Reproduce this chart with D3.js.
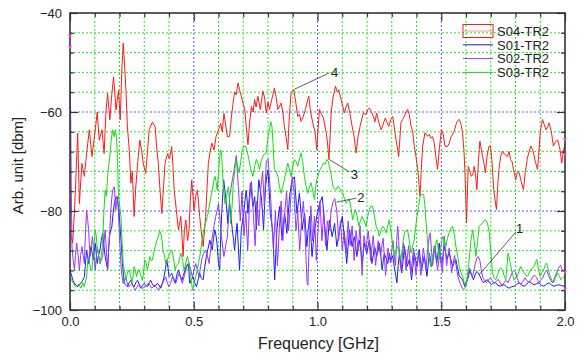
<!DOCTYPE html>
<html>
<head>
<meta charset="utf-8">
<script src="https://cdn.jsdelivr.net/npm/d3@7"></script>
<style>
  body { margin: 0; background: #fff; }
  svg { display: block; font-family: Arial, "Liberation Sans", sans-serif; }
</style>
</head>
<body>
<div id="chart"></div>
<script>
// Data: [frequency GHz, level dbm]
const s04 = [[0,-84],[0.011,-86.5],[0.02,-78],[0.031,-64.3],[0.038,-78.5],[0.048,-70.4],[0.058,-73],[0.068,-68],[0.078,-63.6],[0.089,-69],[0.102,-63.6],[0.11,-60],[0.118,-65.7],[0.129,-63.6],[0.138,-68.4],[0.145,-60],[0.152,-56.2],[0.161,-61.6],[0.168,-57],[0.176,-52.9],[0.186,-59.6],[0.196,-55.6],[0.203,-61.6],[0.209,-52],[0.215,-46.1],[0.22,-50],[0.226,-55.6],[0.232,-63],[0.24,-68],[0.246,-74.4],[0.252,-72],[0.259,-81.1],[0.266,-75],[0.274,-70],[0.282,-65.7],[0.29,-68],[0.296,-70.4],[0.306,-72.4],[0.313,-68],[0.32,-63.6],[0.333,-62],[0.344,-63],[0.35,-67],[0.357,-70.4],[0.364,-76],[0.371,-80.5],[0.378,-75],[0.384,-70.4],[0.394,-68.4],[0.402,-69.5],[0.411,-67],[0.416,-71],[0.421,-75.8],[0.43,-80],[0.438,-83.8],[0.448,-81.1],[0.457,-89.2],[0.462,-84],[0.468,-81.8],[0.475,-86],[0.481,-83.8],[0.486,-78],[0.492,-73.7],[0.501,-79.8],[0.508,-77],[0.515,-75.8],[0.524,-81.1],[0.53,-84],[0.538,-87.2],[0.548,-81.1],[0.554,-75],[0.559,-70.4],[0.566,-68],[0.573,-66.3],[0.582,-67.7],[0.59,-65],[0.6,-63.6],[0.609,-62.3],[0.615,-64],[0.622,-60.3],[0.63,-63],[0.636,-65],[0.645,-64.9],[0.652,-61],[0.659,-58.2],[0.665,-56],[0.672,-56.5],[0.679,-54.1],[0.685,-55.5],[0.692,-56.8],[0.706,-59.5],[0.712,-63],[0.719,-66.6],[0.726,-62],[0.733,-58.9],[0.74,-60],[0.746,-57.5],[0.752,-59],[0.759,-56.8],[0.769,-59.5],[0.779,-55.8],[0.786,-57],[0.793,-60.2],[0.8,-58],[0.806,-59.5],[0.815,-57.5],[0.826,-55.2],[0.833,-57],[0.84,-59.5],[0.853,-58.2],[0.86,-60],[0.866,-62.9],[0.873,-65],[0.88,-67.6],[0.886,-61],[0.893,-56.2],[0.904,-55.5],[0.912,-58],[0.92,-60.9],[0.927,-60.5],[0.934,-61.9],[0.942,-61],[0.951,-59.5],[0.958,-58],[0.965,-56.8],[0.972,-60],[0.981,-62.2],[0.99,-64],[0.997,-67.6],[1.003,-63],[1.008,-59.5],[1.016,-60.5],[1.024,-61.2],[1.035,-64.2],[1.04,-66],[1.046,-69.6],[1.05,-66],[1.055,-60.2],[1.063,-57],[1.073,-54.8],[1.08,-56],[1.086,-55.5],[1.093,-57],[1.099,-58.2],[1.109,-60.2],[1.115,-59],[1.122,-58.2],[1.13,-60],[1.14,-62.9],[1.148,-65],[1.156,-68.3],[1.164,-65],[1.172,-62.9],[1.185,-60.2],[1.195,-60.5],[1.203,-59.5],[1.21,-59.2],[1.218,-60],[1.226,-60.9],[1.232,-62],[1.239,-60.2],[1.247,-62],[1.257,-63.6],[1.265,-62.5],[1.274,-61.2],[1.28,-62],[1.288,-62.9],[1.296,-61.5],[1.304,-60.9],[1.31,-63],[1.317,-65.6],[1.322,-67],[1.328,-69],[1.337,-62.2],[1.344,-61.5],[1.351,-60.9],[1.357,-60],[1.364,-59.5],[1.371,-60.5],[1.378,-62.9],[1.385,-64],[1.391,-66.9],[1.398,-69],[1.405,-71.6],[1.414,-77],[1.419,-72],[1.425,-66.9],[1.434,-64.2],[1.445,-64.9],[1.452,-64.5],[1.458,-65.3],[1.465,-65],[1.472,-66.3],[1.478,-69],[1.485,-71.6],[1.493,-67],[1.501,-63.6],[1.508,-64.5],[1.515,-66.9],[1.525,-67],[1.532,-66.3],[1.54,-65],[1.552,-63.9],[1.56,-62.5],[1.566,-61.8],[1.573,-61.5],[1.58,-62.5],[1.586,-64.2],[1.592,-68],[1.597,-73.7],[1.602,-82.4],[1.606,-76],[1.609,-71],[1.615,-72],[1.622,-73],[1.628,-72.5],[1.633,-71],[1.638,-72.5],[1.644,-75.7],[1.65,-70],[1.656,-65.9],[1.662,-67.5],[1.667,-69],[1.673,-70.5],[1.678,-72.3],[1.685,-69],[1.692,-67],[1.699,-66.9],[1.705,-70],[1.712,-75.7],[1.718,-78],[1.723,-79.7],[1.728,-75],[1.733,-71.6],[1.74,-69],[1.747,-67.9],[1.755,-68.5],[1.767,-69],[1.774,-68],[1.78,-69.6],[1.786,-70],[1.792,-71.6],[1.801,-73.7],[1.808,-72],[1.815,-72.3],[1.823,-74],[1.832,-75.7],[1.84,-72],[1.848,-69.3],[1.855,-68],[1.862,-66.9],[1.868,-67.5],[1.873,-68.3],[1.88,-70],[1.889,-71.6],[1.895,-68],[1.9,-64],[1.909,-61.5],[1.916,-62.5],[1.923,-63.6],[1.93,-63],[1.936,-62.2],[1.945,-64],[1.953,-66.9],[1.962,-66],[1.97,-65.6],[1.978,-67],[1.987,-70.3],[1.993,-68],[2.0,-66.5]];

const s01 = [[0,-91.9],[0.006,-93],[0.012,-94],[0.018,-94.6],[0.025,-95],[0.031,-95.3],[0.038,-94.8],[0.044,-94.6],[0.051,-94],[0.058,-93.3],[0.062,-91],[0.067,-87.9],[0.071,-89],[0.075,-90.6],[0.08,-88.5],[0.085,-87.2],[0.09,-88.5],[0.094,-89.9],[0.098,-88],[0.102,-86.5],[0.106,-88.5],[0.11,-90.6],[0.115,-89],[0.121,-87.9],[0.126,-86],[0.132,-84.5],[0.137,-87],[0.142,-89.2],[0.147,-90.5],[0.152,-91.9],[0.156,-88],[0.159,-85.2],[0.164,-84],[0.169,-83.2],[0.174,-80.5],[0.179,-78.5],[0.184,-77.5],[0.188,-77.1],[0.192,-78],[0.196,-79.1],[0.2,-81.5],[0.203,-83.8],[0.208,-87],[0.212,-90.6],[0.216,-93],[0.219,-94.6],[0.226,-95],[0.232,-95.3],[0.239,-94.5],[0.246,-94],[0.252,-94.8],[0.259,-95.3],[0.266,-94.5],[0.273,-94],[0.28,-94.8],[0.286,-95.6],[0.293,-95],[0.3,-94.6],[0.306,-95],[0.313,-95.3],[0.32,-94.5],[0.326,-94],[0.333,-94.8],[0.34,-95.3],[0.347,-95],[0.353,-94.6],[0.36,-95],[0.367,-95.6],[0.374,-94.5],[0.38,-93.3],[0.386,-91.5],[0.391,-89.9],[0.396,-91.5],[0.4,-93.3],[0.406,-93],[0.411,-92.6],[0.418,-93.5],[0.425,-94.6],[0.431,-93],[0.438,-91.9],[0.445,-93],[0.452,-94],[0.458,-93],[0.465,-91.9],[0.471,-91],[0.478,-90.6],[0.484,-94.6],[0.49,-94],[0.497,-93.3],[0.504,-94.5],[0.511,-95.3],[0.517,-94],[0.524,-92.6],[0.53,-93.5],[0.538,-93.9],[0.544,-91.5],[0.551,-89.2],[0.558,-87.5],[0.565,-85.9],[0.57,-87],[0.575,-87.9],[0.58,-85.5],[0.585,-83.8],[0.59,-85],[0.594,-86.5],[0.6,-90.6],[0.605,-91.9],[0.609,-85],[0.613,-80.5],[0.617,-77],[0.621,-73.7],[0.625,-75.5],[0.629,-77.1],[0.634,-80],[0.638,-82.5],[0.642,-80],[0.645,-78.5],[0.65,-81],[0.656,-83.8],[0.661,-86],[0.665,-87.9],[0.67,-85],[0.675,-82.5],[0.68,-87],[0.685,-91.9],[0.689,-87.5],[0.692,-83.8],[0.697,-82],[0.702,-80.5],[0.707,-78],[0.712,-75.8],[0.716,-78],[0.719,-80.5],[0.724,-77.5],[0.729,-74.4],[0.734,-76.5],[0.739,-79.1],[0.743,-78],[0.746,-77.1],[0.75,-80],[0.753,-83.8],[0.758,-78],[0.763,-73.7],[0.768,-75.5],[0.773,-77.1],[0.778,-80.5],[0.782,-83.8],[0.786,-79],[0.79,-75.1],[0.795,-73],[0.8,-71.7],[0.805,-76],[0.809,-80.5],[0.815,-82.5],[0.82,-84.5],[0.824,-90],[0.827,-93.9],[0.832,-88],[0.836,-83.8],[0.842,-81],[0.847,-79.1],[0.852,-82.5],[0.857,-85.9],[0.862,-83],[0.867,-80.5],[0.872,-82.5],[0.876,-84.5],[0.882,-80.5],[0.887,-77.1],[0.893,-75],[0.898,-73.7],[0.903,-73.5],[0.907,-73.1],[0.912,-77],[0.917,-80.5],[0.922,-78.5],[0.927,-76.4],[0.933,-80],[0.938,-83.8],[0.943,-82],[0.948,-80.5],[0.953,-84],[0.957,-87.2],[0.962,-84],[0.968,-81.1],[0.973,-85],[0.978,-89.2],[0.983,-86.5],[0.988,-83.8],[0.993,-82.5],[0.997,-81.1],[1.003,-79.8],[1.008,-78.5],[1.014,-77.8],[1.019,-77.1],[1.024,-79.8],[1.028,-82.5],[1.033,-85],[1.038,-87.9],[1.043,-85],[1.048,-81.8],[1.054,-83.5],[1.059,-85.2],[1.064,-84],[1.069,-82.5],[1.074,-85],[1.078,-87.2],[1.084,-85.5],[1.089,-83.8],[1.095,-82.5],[1.1,-81.1],[1.105,-83.5],[1.109,-85.9],[1.114,-88],[1.118,-90.6],[1.124,-87],[1.129,-83.8],[1.135,-85.5],[1.14,-87.2],[1.145,-86],[1.149,-85.2],[1.154,-87],[1.159,-89.2],[1.164,-87.5],[1.169,-85.9],[1.175,-88],[1.18,-90.6],[1.185,-88.5],[1.189,-86.5],[1.194,-87.5],[1.199,-88.6],[1.205,-87],[1.21,-85.9],[1.215,-88],[1.22,-90.6],[1.225,-89],[1.23,-87.2],[1.235,-88],[1.239,-89.2],[1.245,-88],[1.25,-86.5],[1.256,-89],[1.261,-91.9],[1.266,-90],[1.27,-88.6],[1.277,-89.5],[1.284,-90.6],[1.29,-88.5],[1.297,-90],[1.304,-89],[1.31,-91.2],[1.316,-93],[1.321,-94.5],[1.326,-91],[1.331,-88.5],[1.336,-90.5],[1.34,-92.5],[1.346,-90],[1.351,-87.1],[1.357,-89],[1.362,-91.2],[1.367,-90.5],[1.371,-89.8],[1.376,-92],[1.38,-93.9],[1.386,-91],[1.391,-88.5],[1.397,-90],[1.402,-91.2],[1.407,-89.5],[1.411,-87.8],[1.416,-90],[1.421,-91.9],[1.426,-90.5],[1.431,-89.2],[1.437,-91],[1.442,-93.2],[1.447,-91],[1.452,-88.5],[1.457,-90],[1.461,-91.2],[1.467,-89],[1.472,-87.1],[1.477,-89],[1.482,-90.5],[1.487,-88.5],[1.492,-86.5],[1.497,-89],[1.501,-91.2],[1.507,-89],[1.512,-87.1],[1.518,-88.5],[1.523,-89.8],[1.528,-89],[1.532,-88.5],[1.54,-90],[1.546,-91.2],[1.552,-90.5],[1.559,-89.8],[1.566,-91.5],[1.573,-93.2],[1.58,-93.5],[1.586,-93.9],[1.59,-94.5],[1.595,-95.2],[1.6,-94.5],[1.606,-93.9],[1.611,-93],[1.616,-91.9],[1.623,-93],[1.63,-93.9],[1.636,-93],[1.643,-92.2],[1.65,-92.5],[1.657,-93.2],[1.664,-94],[1.671,-94.5],[1.68,-94],[1.687,-93.9],[1.695,-94.5],[1.703,-94.9],[1.711,-94.5],[1.72,-94.5],[1.729,-95],[1.738,-95.2],[1.746,-95],[1.754,-94.9],[1.764,-95.3],[1.774,-95.6],[1.784,-95.3],[1.794,-95.2],[1.805,-94.8],[1.815,-94.5],[1.825,-95],[1.835,-95.2],[1.845,-94.8],[1.855,-94.2],[1.865,-94.6],[1.875,-94.9],[1.885,-94.7],[1.895,-94.5],[1.905,-95],[1.915,-95.2],[1.925,-94.8],[1.936,-94.5],[1.946,-95],[1.956,-95.2],[1.966,-95],[1.976,-94.9],[1.986,-95.1],[2.0,-95.2]];

const s02 = [[0,-52],[0.003,-62],[0.005,-75],[0.008,-87.2],[0.013,-90],[0.018,-91.9],[0.022,-89],[0.027,-86.5],[0.033,-89],[0.038,-91.9],[0.043,-89],[0.048,-87.2],[0.053,-89],[0.058,-90.6],[0.062,-85],[0.067,-79.8],[0.071,-81.5],[0.075,-83.8],[0.078,-86.5],[0.081,-89.2],[0.086,-87],[0.091,-85.2],[0.096,-88.5],[0.102,-91.9],[0.106,-89.5],[0.11,-87.2],[0.116,-89],[0.121,-90.6],[0.126,-90],[0.132,-89.2],[0.137,-86.5],[0.142,-83.8],[0.147,-88],[0.152,-91.9],[0.156,-88],[0.161,-83.8],[0.166,-79],[0.172,-75.8],[0.179,-75.1],[0.185,-79.8],[0.188,-78.5],[0.192,-77.1],[0.196,-80.5],[0.199,-84.5],[0.203,-88],[0.207,-91.9],[0.211,-93.5],[0.215,-94.6],[0.22,-94],[0.226,-93.3],[0.231,-94.5],[0.236,-95.3],[0.243,-95],[0.25,-94.6],[0.256,-95.3],[0.263,-96],[0.27,-95.5],[0.277,-94.9],[0.283,-95.3],[0.29,-95.6],[0.297,-95.5],[0.304,-95.3],[0.31,-95],[0.317,-94.6],[0.323,-95],[0.33,-95.6],[0.337,-95.3],[0.344,-94.9],[0.35,-95.5],[0.357,-96],[0.365,-95.3],[0.374,-94.6],[0.38,-94],[0.387,-93.3],[0.393,-94.5],[0.4,-95.3],[0.407,-94.5],[0.414,-93.3],[0.42,-94],[0.427,-94.6],[0.434,-93.5],[0.441,-92.6],[0.447,-93.5],[0.454,-94.6],[0.461,-93.3],[0.468,-91.9],[0.474,-91],[0.481,-90.6],[0.488,-92],[0.495,-93.3],[0.501,-92],[0.508,-90.6],[0.515,-92],[0.522,-93.3],[0.528,-91],[0.535,-89.2],[0.541,-88.5],[0.548,-87.9],[0.555,-89],[0.562,-90.6],[0.568,-88],[0.575,-85.2],[0.582,-83],[0.589,-81.1],[0.594,-80],[0.6,-78.5],[0.605,-81],[0.609,-83.8],[0.615,-86.5],[0.622,-89.2],[0.629,-87],[0.636,-85.2],[0.641,-81],[0.645,-77.1],[0.65,-75.5],[0.656,-73.7],[0.662,-72],[0.667,-70.4],[0.672,-68.8],[0.676,-72],[0.68,-75],[0.684,-78.5],[0.688,-82],[0.692,-79],[0.695,-76],[0.699,-80.5],[0.703,-85],[0.707,-82.5],[0.71,-80],[0.714,-84],[0.718,-88],[0.722,-83],[0.725,-78],[0.729,-76],[0.733,-74],[0.737,-77],[0.74,-80],[0.744,-83.5],[0.748,-87],[0.752,-82.5],[0.755,-78],[0.759,-80.5],[0.763,-83],[0.767,-79.5],[0.77,-76],[0.774,-74],[0.778,-72],[0.782,-75.5],[0.785,-79],[0.789,-74.5],[0.793,-70],[0.797,-69.7],[0.8,-69.5],[0.804,-72],[0.808,-75],[0.812,-78.5],[0.815,-82],[0.819,-85],[0.822,-88],[0.826,-84],[0.83,-80],[0.834,-85.5],[0.838,-91],[0.842,-87.5],[0.845,-84],[0.849,-81],[0.853,-78],[0.857,-82],[0.86,-86],[0.864,-83],[0.868,-80],[0.872,-78],[0.875,-76],[0.879,-80],[0.883,-84],[0.887,-81.5],[0.89,-79],[0.894,-76],[0.898,-73],[0.901,-74.5],[0.905,-76],[0.909,-80],[0.913,-84],[0.917,-82],[0.92,-80],[0.924,-84],[0.928,-88],[0.932,-85],[0.935,-82],[0.939,-80],[0.943,-78],[0.947,-81.5],[0.95,-85],[0.954,-90],[0.958,-94.5],[0.961,-95],[0.965,-89],[0.969,-84],[0.973,-79],[0.977,-82.5],[0.98,-86],[0.984,-83.5],[0.988,-81],[0.992,-85.5],[0.995,-90],[0.999,-86.5],[1.003,-83],[1.007,-80.5],[1.01,-78],[1.014,-82],[1.018,-86],[1.022,-83],[1.025,-80],[1.029,-83.5],[1.033,-87],[1.037,-84.5],[1.04,-82],[1.044,-83],[1.048,-84],[1.052,-82],[1.055,-80],[1.059,-79],[1.063,-78],[1.067,-77.8],[1.07,-77.5],[1.074,-78.8],[1.078,-80],[1.082,-83],[1.085,-86],[1.089,-84],[1.093,-82],[1.097,-85],[1.1,-88],[1.104,-86],[1.108,-84],[1.112,-86],[1.116,-88.5],[1.12,-85],[1.124,-82],[1.128,-84.5],[1.132,-87],[1.136,-85],[1.14,-83],[1.144,-86.5],[1.148,-90],[1.152,-87],[1.156,-84],[1.16,-86],[1.164,-88],[1.168,-85.5],[1.172,-83],[1.176,-88],[1.18,-93],[1.184,-89],[1.188,-85],[1.192,-86.5],[1.196,-88],[1.2,-86],[1.205,-84],[1.21,-87],[1.215,-90],[1.22,-87.5],[1.225,-85],[1.23,-88],[1.235,-91],[1.24,-88.5],[1.245,-86],[1.25,-87.5],[1.255,-89],[1.26,-87],[1.265,-85.5],[1.27,-89],[1.275,-93],[1.28,-90],[1.285,-87.5],[1.29,-89],[1.295,-90.5],[1.3,-88],[1.305,-86],[1.31,-89],[1.315,-91],[1.32,-86],[1.324,-83.1],[1.328,-86],[1.333,-90],[1.338,-92],[1.343,-89],[1.348,-86.5],[1.353,-89],[1.358,-92],[1.363,-89.5],[1.368,-87],[1.373,-89.5],[1.378,-92.5],[1.383,-90],[1.388,-87.5],[1.393,-90],[1.398,-93],[1.403,-90.5],[1.408,-88],[1.413,-90.5],[1.418,-93],[1.423,-90],[1.428,-87.5],[1.433,-89.5],[1.438,-92],[1.443,-89],[1.448,-86.5],[1.452,-85],[1.455,-84.4],[1.46,-87.5],[1.465,-91],[1.47,-89],[1.475,-87],[1.48,-89.5],[1.485,-92],[1.49,-90],[1.495,-88],[1.5,-90.5],[1.505,-92.5],[1.509,-88],[1.512,-85.1],[1.517,-88],[1.522,-91],[1.527,-89],[1.532,-87.5],[1.537,-90],[1.542,-92.5],[1.548,-90.5],[1.554,-89],[1.56,-91],[1.566,-93],[1.572,-94],[1.578,-94.8],[1.584,-95.5],[1.59,-95.8],[1.596,-95.5],[1.602,-94.5],[1.608,-93],[1.614,-91.5],[1.62,-92.5],[1.626,-93.5],[1.632,-92],[1.638,-90.5],[1.644,-89.5],[1.65,-89.2],[1.656,-90],[1.662,-92],[1.668,-93.5],[1.675,-94],[1.682,-94.5],[1.69,-94],[1.698,-93.5],[1.706,-94],[1.714,-94.6],[1.722,-94.2],[1.73,-93.8],[1.738,-94.5],[1.746,-95],[1.754,-94.5],[1.762,-94],[1.77,-94.5],[1.778,-93.5],[1.786,-92.5],[1.794,-92],[1.8,-92.3],[1.806,-93.5],[1.814,-94.5],[1.822,-94.8],[1.83,-94.2],[1.838,-93.5],[1.846,-94],[1.854,-94.5],[1.862,-94],[1.87,-93.2],[1.878,-93],[1.886,-93.5],[1.894,-94.5],[1.902,-94],[1.91,-93.5],[1.918,-92.5],[1.926,-92],[1.934,-93],[1.942,-94],[1.95,-94.5],[1.958,-93.5],[1.966,-92.5],[1.974,-91.5],[1.982,-91],[1.99,-92],[2.0,-92.5]];

const s03 = [[0,-93.3],[0.012,-94.5],[0.024,-95.3],[0.034,-94.8],[0.044,-95.6],[0.052,-94.5],[0.058,-95.3],[0.067,-93.3],[0.072,-90],[0.078,-89.9],[0.084,-92],[0.089,-91.9],[0.095,-88],[0.102,-83.8],[0.106,-85],[0.11,-87.2],[0.116,-89],[0.121,-90.6],[0.126,-89],[0.132,-86.5],[0.137,-80],[0.142,-75.8],[0.147,-77],[0.152,-73],[0.156,-71],[0.161,-69],[0.166,-66],[0.172,-63.6],[0.178,-65],[0.183,-63.6],[0.188,-65],[0.192,-70],[0.196,-77.1],[0.201,-79],[0.206,-81.1],[0.21,-86],[0.215,-90.6],[0.22,-92],[0.226,-94],[0.232,-92.5],[0.239,-91.9],[0.245,-93],[0.25,-94.6],[0.255,-93],[0.259,-91.2],[0.264,-92],[0.269,-93.3],[0.274,-92],[0.279,-91.9],[0.286,-93],[0.293,-94],[0.298,-92],[0.302,-89.9],[0.308,-90.5],[0.313,-91.9],[0.318,-90.5],[0.322,-89.2],[0.328,-90],[0.333,-89.9],[0.338,-88.5],[0.344,-87.2],[0.35,-86],[0.357,-85.2],[0.362,-84],[0.367,-84.5],[0.372,-86],[0.376,-87.9],[0.382,-89],[0.387,-90.6],[0.392,-90],[0.398,-89.2],[0.404,-88.5],[0.411,-87.9],[0.418,-89.5],[0.425,-91.9],[0.43,-91],[0.438,-90.6],[0.443,-89.5],[0.448,-88.5],[0.455,-90],[0.461,-91.9],[0.468,-90.5],[0.474,-89.2],[0.479,-90],[0.484,-91.9],[0.49,-94],[0.495,-96],[0.5,-95],[0.508,-93.3],[0.514,-92],[0.519,-90.6],[0.525,-89],[0.532,-86.5],[0.536,-85],[0.541,-83.8],[0.548,-82.5],[0.555,-81.1],[0.56,-80],[0.564,-78.5],[0.57,-77],[0.575,-75.8],[0.58,-74],[0.586,-73],[0.59,-74],[0.595,-75.8],[0.6,-72],[0.605,-69],[0.609,-67.7],[0.613,-69],[0.616,-71.7],[0.62,-75],[0.626,-78.5],[0.633,-77],[0.64,-75.1],[0.645,-78],[0.649,-82.5],[0.655,-79],[0.659,-75],[0.665,-72],[0.672,-69.6],[0.678,-71],[0.683,-72.3],[0.69,-70],[0.696,-67.6],[0.703,-67],[0.71,-66.9],[0.716,-68],[0.723,-69.6],[0.73,-71.5],[0.739,-73],[0.746,-71],[0.753,-69.6],[0.76,-70.5],[0.766,-71.6],[0.772,-70],[0.779,-69],[0.786,-68.5],[0.793,-68.3],[0.8,-65],[0.806,-63.6],[0.811,-62],[0.816,-62.9],[0.821,-67],[0.826,-71.6],[0.833,-72],[0.84,-73],[0.846,-75],[0.853,-76.4],[0.86,-75],[0.866,-73.7],[0.873,-72],[0.88,-70.3],[0.886,-71.5],[0.893,-73],[0.9,-71],[0.907,-69.6],[0.913,-70],[0.92,-71],[0.927,-69.5],[0.934,-68.3],[0.94,-70],[0.947,-73],[0.954,-75],[0.961,-76.4],[0.968,-75],[0.974,-74.3],[0.981,-76],[0.988,-77.7],[0.993,-75],[0.997,-73.7],[1.004,-72.5],[1.011,-71.6],[1.018,-71],[1.024,-70.3],[1.031,-70.5],[1.038,-69.6],[1.044,-70],[1.048,-71],[1.055,-72.5],[1.062,-75],[1.068,-75.5],[1.075,-75.7],[1.082,-75],[1.089,-75.4],[1.095,-76],[1.102,-76.4],[1.109,-77.5],[1.116,-78.4],[1.122,-78],[1.129,-77.7],[1.136,-79.5],[1.142,-81.8],[1.148,-80.5],[1.153,-79.7],[1.16,-81],[1.167,-83.1],[1.173,-82],[1.18,-81.1],[1.188,-82],[1.196,-83.1],[1.203,-81],[1.21,-79.7],[1.216,-79],[1.223,-79.1],[1.23,-81],[1.237,-83.1],[1.244,-84],[1.25,-85.1],[1.256,-84],[1.263,-83.1],[1.27,-83.5],[1.277,-84.4],[1.284,-83],[1.29,-81.8],[1.297,-84],[1.304,-87.1],[1.31,-89.2],[1.317,-88],[1.324,-87.1],[1.33,-88.5],[1.337,-89.8],[1.344,-87],[1.351,-84.4],[1.358,-84],[1.364,-83.8],[1.371,-86],[1.378,-88.5],[1.385,-87],[1.391,-85.8],[1.396,-83.5],[1.402,-81.1],[1.408,-79],[1.415,-77],[1.422,-76.6],[1.429,-76.7],[1.434,-79],[1.438,-81.8],[1.443,-85],[1.448,-87.8],[1.453,-90],[1.458,-91.2],[1.464,-90],[1.469,-88.5],[1.476,-87],[1.482,-85.8],[1.487,-87.5],[1.492,-89.8],[1.498,-87.5],[1.505,-85.1],[1.512,-86],[1.519,-87.1],[1.525,-85.5],[1.532,-84.4],[1.539,-83.5],[1.546,-83.1],[1.552,-84.5],[1.559,-87.1],[1.566,-89],[1.573,-91.2],[1.58,-92.5],[1.586,-93.2],[1.593,-94.5],[1.6,-95.2],[1.606,-93],[1.613,-89.8],[1.62,-86],[1.627,-83.8],[1.633,-86],[1.64,-89.2],[1.647,-86],[1.653,-83.1],[1.66,-82.8],[1.667,-82.4],[1.673,-82],[1.68,-81.8],[1.687,-82.5],[1.694,-84.4],[1.7,-88],[1.707,-92.5],[1.713,-93.5],[1.72,-93.9],[1.727,-93],[1.734,-91.9],[1.74,-91.5],[1.747,-91.9],[1.754,-93],[1.761,-93.9],[1.766,-91],[1.77,-88.5],[1.777,-90],[1.784,-91.9],[1.79,-93],[1.794,-93.9],[1.8,-93.5],[1.808,-93.2],[1.815,-92],[1.821,-91.2],[1.828,-92],[1.835,-92.5],[1.842,-93],[1.848,-93.2],[1.855,-92.5],[1.862,-91.9],[1.868,-91.5],[1.875,-91.2],[1.88,-90.5],[1.886,-89.8],[1.892,-91.5],[1.899,-93.2],[1.906,-92.5],[1.913,-91.9],[1.92,-91],[1.926,-90.5],[1.933,-92],[1.94,-93.2],[1.947,-94],[1.953,-94.5],[1.962,-93.5],[1.97,-92.5],[1.977,-93],[1.983,-93.9],[1.99,-93.5],[2.0,-93.2]];

const seriesNames = ["S04-TR2", "S01-TR2", "S02-TR2", "S03-TR2"];
const seriesColors = ["#ff1a1a", "#1a1aff", "#9933ff", "#11dd11"];

const xMajorTicks = [0.0, 0.5, 1.0, 1.5, 2.0];
const xMinorTicks = [0.1, 0.2, 0.3, 0.4, 0.6, 0.7, 0.8, 0.9, 1.1, 1.2, 1.3, 1.4, 1.6, 1.7, 1.8, 1.9];
const yMajorTicks = [-40, -60, -80, -100];
const yMinorTicks = [-44, -48, -52, -56, -64, -68, -72, -76, -84, -88, -92, -96];

// callout labels: [label, line start f, v, line end f, v, text f, v]
const callouts = [
  ["4", 0.907, -55.4, 1.048, -52.1, 1.069, -52.9],
  ["3", 1.048, -69.6, 1.129, -72.1, 1.149, -73.5],
  ["2", 1.077, -78.2, 1.157, -77.4, 1.175, -78.2],
  ["1", 1.653, -92.9, 1.802, -84.2, 1.817, -84.4]
];

// magenta end markers: [f, v]
const markers = [[0, -44.8], [0, -47.0], [2.0, -65.7], [2.0, -68.7], [2.0, -92.5], [2.0, -95.9]];

// Dimensions
const width = 579, height = 354;
const plot = { left: 70, right: 565, top: 13, bottom: 310 };

const svg = d3.select("#chart").append("svg").attr("width", width).attr("height", height);
svg.append("rect").attr("width", width).attr("height", height).attr("fill", "#fff");

// Scales
const x = d3.scaleLinear().domain([0, 2]).range([plot.left, plot.right]);
const y = d3.scaleLinear().domain([-100, -40]).range([plot.bottom, plot.top]);

// Grid
const grid = svg.append("g");
grid.selectAll(".gx").data(xMinorTicks).join("line")
  .attr("x1", d => x(d)).attr("x2", d => x(d)).attr("y1", plot.top).attr("y2", plot.bottom)
  .attr("stroke", "#22ee22").attr("stroke-dasharray", "2,2");
grid.selectAll(".gy").data(yMinorTicks).join("line")
  .attr("y1", d => y(d)).attr("y2", d => y(d)).attr("x1", plot.left).attr("x2", plot.right)
  .attr("stroke", "#22ee22").attr("stroke-dasharray", "2,2");
grid.selectAll(".bx").data(xMajorTicks.slice(1, -1)).join("line")
  .attr("x1", d => x(d)).attr("x2", d => x(d)).attr("y1", plot.top).attr("y2", plot.bottom)
  .attr("stroke", "#5555ff").attr("stroke-dasharray", "2,2");
grid.selectAll(".by").data(yMajorTicks.slice(1, -1)).join("line")
  .attr("y1", d => y(d)).attr("y2", d => y(d)).attr("x1", plot.left).attr("x2", plot.right)
  .attr("stroke", "#5555ff").attr("stroke-dasharray", "2,2");

// Traces
svg.append("clipPath").attr("id", "clip").append("rect")
  .attr("x", plot.left).attr("y", plot.top)
  .attr("width", plot.right - plot.left).attr("height", plot.bottom - plot.top);

const line = d3.line().x(d => x(d[0])).y(d => y(d[1]));
const traces = [s04, s01, s02, s03];
svg.append("g").attr("clip-path", "url(#clip)")
  .selectAll("path").data(traces).join("path")
  .attr("d", line)
  .attr("fill", "none")
  .attr("stroke", (d, i) => seriesColors[i])
  .attr("stroke-width", 1)
  .attr("stroke-linejoin", "round");

// Axes
function styleAxis(g) {
  g.select(".domain").remove();
  g.selectAll(".tick line").attr("stroke", "#333").attr("stroke-width", 1.2);
  g.selectAll(".tick text").attr("fill", "#222").style("font-size", "13px")
    .style("font-family", "Arial, 'Liberation Sans', sans-serif");
}
const fmt = d3.format(".1f");
svg.append("g").attr("transform", `translate(0,${plot.bottom})`)
  .call(d3.axisBottom(x).tickValues(xMajorTicks).tickSize(-8).tickPadding(7).tickFormat(fmt)).call(styleAxis);
svg.append("g").attr("transform", `translate(0,${plot.bottom})`)
  .call(d3.axisBottom(x).tickValues(xMinorTicks).tickSize(-4).tickFormat("")).call(styleAxis);
svg.append("g").attr("transform", `translate(0,${plot.top})`)
  .call(d3.axisTop(x).tickValues(xMajorTicks).tickSize(-8).tickFormat("")).call(styleAxis);
svg.append("g").attr("transform", `translate(0,${plot.top})`)
  .call(d3.axisTop(x).tickValues(xMinorTicks).tickSize(-4).tickFormat("")).call(styleAxis);
svg.append("g").attr("transform", `translate(${plot.left},0)`)
  .call(d3.axisLeft(y).tickValues(yMajorTicks).tickSize(-8).tickPadding(8).tickFormat(d3.format("d"))).call(styleAxis);
svg.append("g").attr("transform", `translate(${plot.left},0)`)
  .call(d3.axisLeft(y).tickValues(yMinorTicks).tickSize(-4).tickFormat("")).call(styleAxis);
svg.append("g").attr("transform", `translate(${plot.right},0)`)
  .call(d3.axisRight(y).tickValues(yMajorTicks).tickSize(-8).tickFormat("")).call(styleAxis);
svg.append("g").attr("transform", `translate(${plot.right},0)`)
  .call(d3.axisRight(y).tickValues(yMinorTicks).tickSize(-4).tickFormat("")).call(styleAxis);

// Frame
svg.append("rect")
  .attr("x", plot.left).attr("y", plot.top)
  .attr("width", plot.right - plot.left).attr("height", plot.bottom - plot.top)
  .attr("fill", "none").attr("stroke", "#333").attr("stroke-width", 1.6);

// Magenta markers on the frame
svg.append("g").selectAll("path").data(markers).join("path")
  .attr("d", d => `M${x(d[0]) - 2},${y(d[1]) - 2}L${x(d[0]) + 2},${y(d[1]) - 2}L${x(d[0])},${y(d[1]) + 1}Z`)
  .attr("fill", "#ff33ff");

// Callouts
const co = svg.append("g");
co.selectAll("line").data(callouts).join("line")
  .attr("x1", d => x(d[1])).attr("y1", d => y(d[2]))
  .attr("x2", d => x(d[3])).attr("y2", d => y(d[4]))
  .attr("stroke", "#333").attr("stroke-width", 0.8);
co.selectAll("text").data(callouts).join("text")
  .attr("x", d => x(d[5])).attr("y", d => y(d[6]))
  .attr("text-anchor", "middle").attr("fill", "#222").style("font-size", "13px")
  .text(d => d[0]);

// Axis titles
svg.append("text")
  .attr("x", (plot.left + plot.right) / 2 + 1).attr("y", 349)
  .attr("text-anchor", "middle").attr("fill", "#222").style("font-size", "16px")
  .text("Frequency [GHz]");
svg.append("text")
  .attr("transform", `translate(23,${(plot.top + plot.bottom) / 2 + 4}) rotate(-90)`)
  .attr("text-anchor", "middle").attr("fill", "#222").style("font-size", "15px")
  .text("Arb. unit [dbm]");

// Legend
const legend = svg.append("g");
const legendX = 463, legendY = 31, legendStep = 13.8;
legend.append("rect").attr("x", legendX).attr("y", legendY - 6.5).attr("width", 30).attr("height", 13)
  .attr("fill", "none").attr("stroke", seriesColors[0]).attr("stroke-width", 1);
legend.selectAll("line").data(seriesNames).join("line")
  .attr("x1", legendX).attr("x2", legendX + 30)
  .attr("y1", (d, i) => legendY + i * legendStep).attr("y2", (d, i) => legendY + i * legendStep)
  .attr("stroke", (d, i) => i === 0 ? "#ff9999" : seriesColors[i]).attr("stroke-width", 1);
legend.selectAll("text").data(seriesNames).join("text")
  .attr("x", legendX + 34).attr("y", (d, i) => legendY + i * legendStep + 4.8)
  .attr("fill", "#222").style("font-size", "13px")
  .text(d => d);
</script>
</body>
</html>
